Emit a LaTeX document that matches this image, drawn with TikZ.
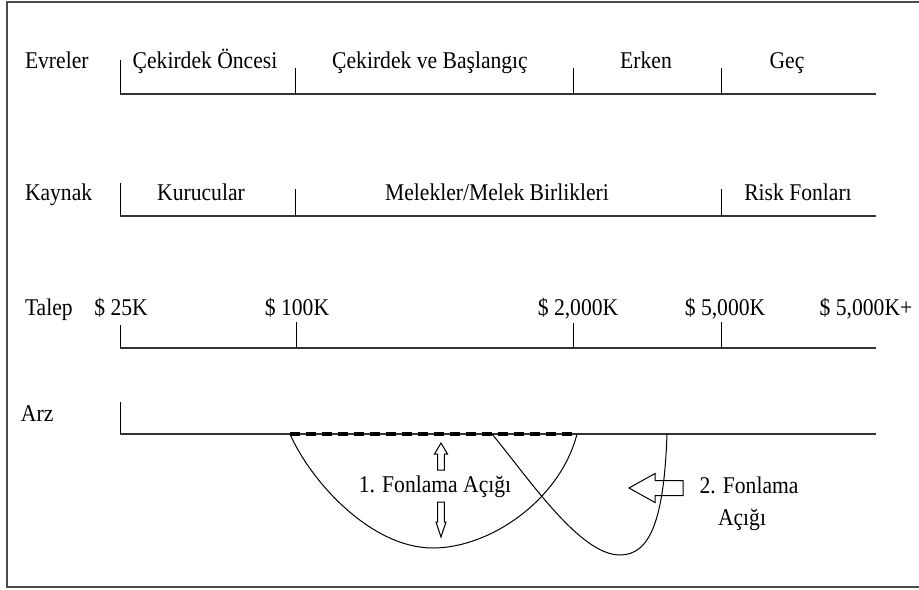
\documentclass[tikz,border=0pt]{standalone}
\usepackage{fontspec}
\setmainfont{Liberation Serif}[FakeStretch=0.9]
\newcommand{\labelsize}{\fontsize{18}{22}\selectfont}
\tikzstyle{axisline}=[draw=black!80, line width=1.1pt]
\tikzstyle{tickline}=[draw=black, line width=0.75pt]
\tikzstyle{rowlabel}=[inner sep=0, outer sep=0, anchor=base west, font=\labelsize]
\tikzstyle{phase}=[inner sep=0, outer sep=0, anchor=base, font=\labelsize]
\tikzstyle{gapline}=[draw=black, line width=3.4pt, dash pattern=on 7.5pt off 4.5pt]
\tikzstyle{gapcurve}=[draw=black, line width=0.75pt]
\tikzstyle{hollowarrow}=[draw=black, line width=0.75pt, line join=miter]
\tikzstyle{frame}=[draw=black!70, line width=1.5pt]

\begin{document}
\begin{tikzpicture}[x=0.75pt, y=-0.75pt]
        \useasboundingbox (0,0) rectangle (919,589);
        \draw[frame] (919,2) -- (6.5,2) -- (6.5,587) -- (919,587);
        % Evreler
        \node[rowlabel] (evreler)   at (25, 68)  {Evreler};
        \node[phase]    (oncesi)    at (205, 68) {Çekirdek Öncesi};
        \node[phase]    (baslangic) at (430, 68) {Çekirdek ve Başlangıç};
        \node[phase]    (erken)     at (646, 68) {Erken};
        \node[phase]    (gec)       at (787, 68) {Geç};
        \coordinate (E0) at (120, 94);
        \coordinate (E1) at (295, 94);
        \coordinate (E2) at (573, 94);
        \coordinate (E3) at (721, 94);
        \coordinate (E4) at (876, 94);
        \draw[axisline] (E0) -- (E4);
        \draw[tickline] (E0) -- +(0, -34);
        \draw[tickline] (E1) -- +(0, -26);
        \draw[tickline] (E2) -- +(0, -26);
        \draw[tickline] (E3) -- +(0, -26);
        % Kaynak
        \node[rowlabel] (kaynak)    at (25, 200)  {Kaynak};
        \node[phase]    (kurucular) at (201, 200) {Kurucular};
        \node[phase]    (melekler)  at (497, 200) {Melekler/Melek Birlikleri};
        \node[phase]    (risk)      at (798, 200) {Risk Fonları};
        \coordinate (K0) at (120, 216);
        \coordinate (K1) at (295, 216);
        \coordinate (K2) at (721, 216);
        \coordinate (K3) at (876, 216);
        \draw[axisline] (K0) -- (K3);
        \draw[tickline] (K0) -- +(0, -33);
        \draw[tickline] (K1) -- +(0, -27);
        \draw[tickline] (K2) -- +(0, -27);
        % Talep
        \node[rowlabel] (talep) at (25, 315)  {Talep};
        \node[phase]    (T25)   at (121, 315) {\$ 25K};
        \node[phase]    (T100)  at (297, 315) {\$ 100K};
        \node[phase]    (T2000) at (578, 315) {\$ 2,000K};
        \node[phase]    (T5000) at (725, 315) {\$ 5,000K};
        \node[phase]    (Tplus) at (866, 315) {\$ 5,000K+};
        \coordinate (T0) at (120, 348);
        \coordinate (T1) at (296, 348);
        \coordinate (T2) at (573, 348);
        \coordinate (T3) at (721, 348);
        \coordinate (T4) at (876, 348);
        \draw[axisline] (T0) -- (T4);
        \draw[tickline] (T0) -- +(0, -23);
        \draw[tickline] (T1) -- +(0, -26);
        \draw[tickline] (T2) -- +(0, -25);
        \draw[tickline] (T3) -- +(0, -26);
        % Arz
        \node[rowlabel] (arz) at (21, 421) {Arz};
        \coordinate (A0) at (120, 434);
        \coordinate (A1) at (876, 434);
        \draw[axisline] (A0) -- (A1);
        \draw[tickline] (A0) -- +(0, -32);
        % Fonlama acigi
        \coordinate (G1a) at (290, 434);
        \coordinate (G1b) at (577, 434);
        \coordinate (B1)  at (433, 548);
        \coordinate (G2a) at (492, 434);
        \coordinate (G2b) at (667, 434);
        \coordinate (B2)  at (620, 555);
        \draw[gapline] (G1a) -- (G1b);
        \draw[gapcurve] (G1a) .. controls (310, 480) and (370, 548) .. (B1)
                              .. controls (490, 548) and (560, 500) .. (G1b);
        \draw[gapcurve] (G2a) .. controls (530, 480) and (580, 555) .. (B2)
                              .. controls (650, 555) and (664, 520) .. (G2b);
        \draw[hollowarrow] (441, 443) -- (447.5, 454) -- (444.3, 454) -- (444.3, 470)
                           -- (437.7, 470) -- (437.7, 454) -- (434.5, 454) -- cycle;
        \draw[hollowarrow] (437.7, 502) -- (444.3, 502) -- (444.3, 522) -- (446, 522)
                           -- (441, 537) -- (436, 522) -- (437.7, 522) -- cycle;
        \draw[hollowarrow] (629, 488) -- (655, 473.5) -- (655, 480.5) -- (683, 480.5)
                           -- (683, 495.5) -- (655, 495.5) -- (655, 502.5) -- cycle;
        \node[phase] (gap1)  at (435, 492) {1. Fonlama Açığı};
        \node[phase] (gap2a) at (749, 493) {2. Fonlama};
        \node[phase] (gap2b) at (742, 525) {Açığı};
    \end{tikzpicture}
\end{document}
